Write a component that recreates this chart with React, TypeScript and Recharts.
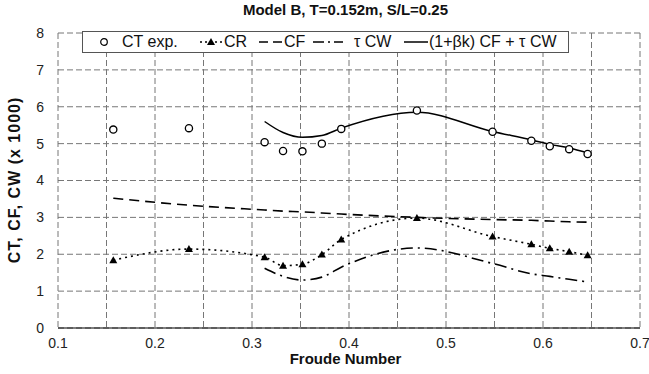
import { ComposedChart, Line, Scatter, XAxis, YAxis, CartesianGrid } from "recharts";

// Froude numbers of the test points
const froude = [0.157, 0.235, 0.313, 0.332, 0.352, 0.372, 0.392, 0.47, 0.548, 0.588, 0.607, 0.627, 0.646];
const ctExp = [5.38, 5.42, 5.04, 4.8, 4.79, 5.0, 5.4, 5.9, 5.32, 5.08, 4.93, 4.85, 4.72];
const crValues = [1.84, 2.14, 1.92, 1.69, 1.73, 1.99, 2.4, 2.98, 2.48, 2.27, 2.16, 2.07, 1.97];
const cfValues = [3.52, 3.33, 3.2, 3.17, 3.15, 3.12, 3.09, 3.0, 2.94, 2.92, 2.9, 2.88, 2.87];

// form factor / wave curves only computed from Fr 0.313 on
const froudeHigh = [0.313, 0.332, 0.352, 0.372, 0.392, 0.47, 0.548, 0.588, 0.607, 0.627, 0.646];
const tauCw = [1.62, 1.4, 1.3, 1.38, 1.65, 2.17, 1.75, 1.47, 1.4, 1.32, 1.25];
const ctPred = [5.6, 5.3, 5.17, 5.22, 5.42, 5.85, 5.33, 5.1, 4.98, 4.88, 4.75];

const xTicks = [0.1, 0.15, 0.2, 0.25, 0.3, 0.35, 0.4, 0.45, 0.5, 0.55, 0.6, 0.65, 0.7];
const yTicks = [0, 1, 2, 3, 4, 5, 6, 7, 8];

const ctRows = froude.map((fr, i) => ({ fr, ct: ctExp[i] }));
const crRows = froude.map((fr, i) => ({ fr, cr: crValues[i] }));
const cfRows = froude.map((fr, i) => ({ fr, cf: cfValues[i] }));
const cwRows = froudeHigh.map((fr, i) => ({ fr, cw: tauCw[i] }));
const predRows = froudeHigh.map((fr, i) => ({ fr, pred: ctPred[i] }));

const FONT = "'Liberation Sans', Arial, sans-serif";
const tickStyle = { fontSize: 14, fill: "#222", fontFamily: FONT };

function Circle(props: any) {
  return <circle cx={props.cx} cy={props.cy} r={3.6} fill="#fff" stroke="#000" strokeWidth={1.3} />;
}

function Tri(props: any) {
  const { cx, cy, index } = props;
  if (cx == null || cy == null) return <g key={index} />;
  return <path key={index} d={`M${cx},${cy - 4}L${cx + 4},${cy + 3}L${cx - 4},${cy + 3}Z`} fill="#000" />;
}

function LegendBox() {
  const txt = (left: number, s: string) => (
    <span style={{ position: "absolute", left, top: 1, whiteSpace: "nowrap" }}>{s}</span>
  );
  const icon = (left: number, w: number, children: any) => (
    <svg style={{ position: "absolute", left, top: 5 }} width={w} height={10}>{children}</svg>
  );
  return (
    <div
      style={{
        position: "absolute", left: 82, top: 31, width: 487, height: 22,
        border: "1px solid #555", background: "#fff", boxSizing: "border-box",
        fontFamily: FONT, fontSize: 16, color: "#111",
      }}
    >
      {icon(16, 10, <circle cx={5} cy={5} r={3.3} fill="#fff" stroke="#000" strokeWidth={1.2} />)}
      {txt(39, "CT exp.")}
      {icon(117, 22, <>
        <line x1={0} y1={5} x2={22} y2={5} stroke="#000" strokeWidth={1.5} strokeDasharray="2 3" />
        <path d="M11,1L15,8L7,8Z" fill="#000" />
      </>)}
      {txt(141, "CR")}
      {icon(176, 24, <line x1={0} y1={5} x2={24} y2={5} stroke="#000" strokeWidth={1.5} strokeDasharray="9 5" />)}
      {txt(201, "CF")}
      {icon(230, 30, <line x1={0} y1={5} x2={30} y2={5} stroke="#000" strokeWidth={1.5} strokeDasharray="11 4 2 4" />)}
      {txt(271, "τ CW")}
      {icon(321, 24, <line x1={0} y1={5} x2={24} y2={5} stroke="#000" strokeWidth={1.5} />)}
      {txt(346, "(1+βk) CF + τ CW")}
    </div>
  );
}

export default function App() {
  return (
    <div style={{ position: "absolute", left: 0, top: 0, width: 649, height: 374, background: "#fff" }}>
      <div
        style={{
          position: "absolute", left: 0, width: 649, top: 1, textAlign: "center", paddingLeft: 42,
          boxSizing: "border-box", fontFamily: FONT, fontWeight: "bold", fontSize: 15, color: "#111",
        }}
      >
        Model B, T=0.152m, S/L=0.25
      </div>
      <ComposedChart width={649} height={374} margin={{ top: 33, right: 9, bottom: 26, left: 28 }}>
        <CartesianGrid stroke="#777" strokeDasharray="6 3" />
        <XAxis
          type="number"
          dataKey="fr"
          domain={[0.1, 0.7]}
          ticks={xTicks}
          tickFormatter={(v: number) => (Math.round(v * 100) % 10 === 0 ? v.toFixed(1) : "")}
          tick={tickStyle}
          tickLine={false}
          tickSize={0}
          tickMargin={10}
          axisLine={{ stroke: "#000", strokeWidth: 1.2 }}
          height={20}
          allowDataOverflow
        />
        <YAxis
          type="number"
          domain={[0, 8]}
          ticks={yTicks}
          tick={tickStyle}
          tickLine={false}
          tickSize={0}
          tickMargin={14}
          axisLine={false}
          width={30}
        />
        <Line data={cfRows} dataKey="cf" type="monotone" stroke="#000" strokeWidth={1.6} strokeDasharray="10 6" dot={false} isAnimationActive={false} />
        <Line data={cwRows} dataKey="cw" type="monotone" stroke="#000" strokeWidth={1.6} strokeDasharray="12 5 2 5" dot={false} isAnimationActive={false} />
        <Line data={crRows} dataKey="cr" type="monotone" stroke="#000" strokeWidth={1.6} strokeDasharray="2 4" dot={<Tri />} isAnimationActive={false} />
        <Line data={predRows} dataKey="pred" type="monotone" stroke="#000" strokeWidth={1.5} dot={false} isAnimationActive={false} />
        <Scatter data={ctRows} dataKey="ct" shape={<Circle />} isAnimationActive={false} />
      </ComposedChart>
      <LegendBox />
      <div
        style={{
          position: "absolute", left: 15, top: 180, transform: "translate(-50%, -50%) rotate(-90deg)",
          whiteSpace: "nowrap", fontFamily: FONT, fontWeight: "bold", fontSize: 16, letterSpacing: 1, color: "#111",
        }}
      >
        CT, CF, CW (x 1000)
      </div>
      <div
        style={{
          position: "absolute", left: 0, width: 649, top: 350, textAlign: "center", paddingLeft: 42,
          boxSizing: "border-box", fontFamily: FONT, fontWeight: "bold", fontSize: 15, color: "#111",
        }}
      >
        Froude Number
      </div>
    </div>
  );
}
